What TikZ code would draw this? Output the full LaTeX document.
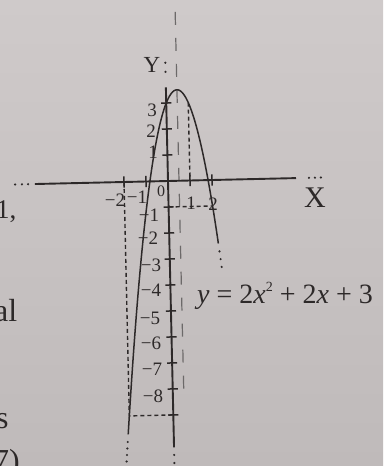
\documentclass[tikz,border=0pt]{standalone}
\usepackage{fontspec}
\setmainfont{Liberation Serif}
\definecolor{paperlight}{RGB}{207,202,202}
\definecolor{paperdark}{RGB}{191,186,186}
\definecolor{ink}{RGB}{45,41,41}
\tikzset{
  axisline/.style={ink, line width=1.9pt},
  curveline/.style={ink, line width=1.5pt},
  symline/.style={ink!70, line width=1.2pt, dash pattern=on 13pt off 13pt},
  helpline/.style={ink, line width=1.4pt, dash pattern=on 4pt off 3pt},
  tickline/.style={ink, line width=1.5pt},
  lab/.style={text=ink, inner sep=0pt, font=\fontsize{19}{21}\selectfont},
  smalllab/.style={text=ink, inner sep=0pt, font=\fontsize{16}{18}\selectfont},
  axislab/.style={text=ink, inner sep=0pt},
  bodytext/.style={text=ink, inner sep=0pt, font=\fontsize{32}{36}\selectfont},
}
\begin{document}
\begin{tikzpicture}[x=1pt,y=-1pt]
\useasboundingbox (0,0) rectangle (383,466);
\clip (0,0) rectangle (383,466);
\shade[top color=paperlight, bottom color=paperdark] (0,0) rectangle (383,466);

% fragments of the page text on the left
\node[bodytext, anchor=base west, font=\fontsize{27}{30}\selectfont] (t1) at (-4,218) {1,};
\node[bodytext, anchor=base west] (t2) at (-6,321) {al};
\node[bodytext, anchor=base west] (t3) at (-4,428) {s};
\node[bodytext, anchor=base west] (t4) at (-7,471) {7)};

\begin{scope}[shift={(168,181)}, x=22pt, y=26pt, rotate=1.3]
  % axis of symmetry
  \draw[symline] (0.5,6.5) -- (0.5,-8.4);
  % x axis
  \draw[axisline] (-6.05,0) -- (5.82,0);
  \foreach \xx in {-6.95,-6.64,-6.36,6.41,6.68,6.95}
    \fill[ink] (\xx,0) circle (1.2pt);
  % y axis
  \draw[axisline] (0,3.6) -- (0,-10.25);
  \foreach \yy in {4.2,4.55,-10.54,-10.85}
    \fill[ink] (0,\yy) circle (1.2pt);
  % ticks
  \foreach \yy in {3,2,1,-1,-2,-3,-4,-5,-6,-7,-8,-9}
    \draw[tickline] (-0.23,\yy) -- (0.23,\yy);
  \foreach \xx in {-2,-1,1,2}
    \draw[tickline] (\xx,-0.22) -- (\xx,0.22);
  % helper dashed lines
  \draw[helpline] (1,3) -- (1,0);
  \draw[helpline] (0,-1) -- (2,-1);
  \draw[helpline] (-2,0) -- (-2,-9) -- (0,-9);
  % parabola
  \draw[curveline] plot[domain=-2.07:2.225, samples=120, smooth] (\x,{-2*\x*\x+2*\x+3});
  \foreach \px/\py in {-2.098/-10,-2.122/-10.25,-2.146/-10.5,-2.169/-10.75,-2.193/-11,
                       2.268/-2.75,2.310/-3.05,2.351/-3.35}
    \fill[ink] (\px,\py) circle (1.2pt);
\end{scope}

% axis names
\node[axislab, font=\fontsize{23}{25}\selectfont] (ylabel) at (152,65) {Y};
\node[axislab, font=\fontsize{30}{32}\selectfont] (xlabel) at (315,198) {X};

% y-axis numbers
\node[lab] (y3) at (152,110) {3};
\node[lab] (y2) at (151,131) {2};
\node[lab] (y1) at (153,152) {1};
\node[smalllab] (o) at (161,191) {0};
\node[lab] (ym1) at (149,215) {−1};
\node[lab] (ym2) at (148,238) {−2};
\node[lab] (ym3) at (151,265) {−3};
\node[lab] (ym4) at (151,290) {−4};
\node[lab] (ym5) at (150,318) {−5};
\node[lab] (ym6) at (151,343) {−6};
\node[lab] (ym7) at (152,369) {−7};
\node[lab] (ym8) at (153,396) {−8};

% x-axis numbers
\node[lab] (xm2) at (115,200) {−2};
\node[lab] (xm1) at (137,197) {−1};
\node[lab] (x1) at (191,203) {1};
\node[lab] (x2) at (213,204) {2};

% formula
\node[axislab, anchor=base west, font=\fontsize{28}{30}\selectfont] (eq) at (197,303)
  {\textit{y} = 2\textit{x}\raisebox{0.42em}{\fontsize{14}{14}\selectfont 2} + 2\textit{x} + 3};
\end{tikzpicture}
\end{document}
